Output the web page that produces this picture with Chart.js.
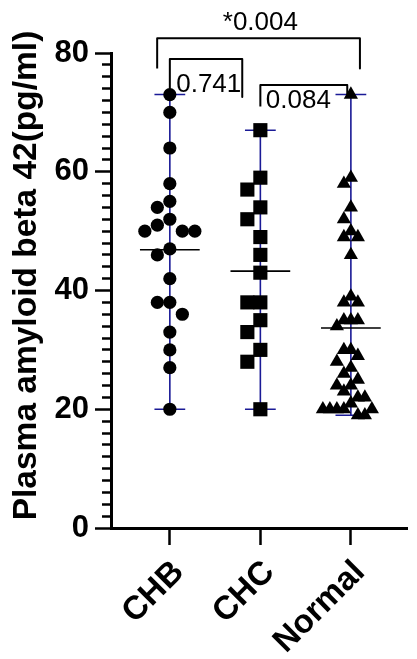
<!DOCTYPE html>
<html>
<head>
<meta charset="utf-8">
<script src="https://cdn.jsdelivr.net/npm/chart.js@4.4.1/dist/chart.umd.min.js"></script>
<style>
html, body { margin: 0; padding: 0; background: #fff; }
#wrap { width: 417px; height: 659px; position: relative; }
</style>
</head>
<body>
<div id="wrap"><canvas id="chart"></canvas></div>
<script>
var groups = ['CHB', 'CHC', 'Normal'];
var chbValues = [73, 70, 64, 58, 55, 54, 52, 51, 50, 50, 50, 47, 46, 42, 38, 38, 36, 33, 30, 27, 20];
var chcValues = [67, 59, 57, 54, 52, 49, 46, 43, 38, 38, 35, 33, 30, 28, 20];
var normalValues = [73, 59, 58, 54, 52, 50, 49, 49, 46, 39, 38, 38, 35, 35, 35, 34, 30, 30, 29, 28,
                    27, 26, 25, 24, 24, 23, 22, 22, 21, 20, 20, 20, 20, 20, 19, 19];
var yTickLabels = [0, 20, 40, 60, 80];
var yTitle = 'Plasma amyloid beta 42(pg/ml)';

// significance brackets (x in group units, y in pg/ml)
var pLabels = ['0.741', '0.084', '*0.004'];
var bracketLeft = [1, 2, 0.86];
var bracketRight = [1.8, 2.96, 3.1];
var bracketTop = [79, 74.6, 82.5];
var bracketLeftEnd = [74, 71, 77.4];
var bracketRightEnd = [72.6, 73, 77.4];
var pLabelX = [1.43, 2.42, 2.0];
var pLabelY = [74.6, 72, 85];

var allValues = [chbValues, chcValues, normalValues];
var markers = [
    { style: 'circle', radius: 6.6, step: 12.5, gx: 12.5, gy: 12.5 },
    { style: 'rect', radius: 10, step: 13, gx: 13, gy: 13 },
    { style: 'triangle', radius: 8.2, step: 7, gx: 7, gy: 12.5 }
];
var FONT = '"Liberation Sans", Arial, sans-serif';

function mean(a) { return a.reduce(function (s, v) { return s + v; }, 0) / a.length; }

// simple beeswarm: place highest first, at centre or the nearest free slot
function swarm(values, m, pxX, pxY) {
    var placed = [];
    var offs = new Array(values.length);
    var order = values.map(function (v, i) { return i; }).sort(function (a, b) { return values[b] - values[a]; });
    order.forEach(function (i) {
        for (var k = 0; k < 40; k++) {
            var o = k === 0 ? 0 : (k % 2 ? -Math.ceil(k / 2) : k / 2) * m.step;
            var ok = placed.every(function (p) {
                var dx = (o - p.o) / m.gx, dy = (values[i] - p.v) * pxY / m.gy;
                return dx * dx + dy * dy >= 0.999;
            });
            if (ok) { placed.push({ o: o, v: values[i] }); offs[i] = o / pxX; break; }
        }
    });
    return offs;
}

var datasets = [];

// mean lines
var meanData = [];
allValues.forEach(function (vals, g) {
    var m = mean(vals);
    meanData.push({ x: g + 1 - 0.33, y: m }, { x: g + 1 + 0.33, y: m }, { x: g + 1, y: null });
});
datasets.push({ type: 'line', data: meanData, borderColor: '#000', borderWidth: 1.6, pointRadius: 0, spanGaps: false, order: 0 });

// range (min-max) lines
var rangeData = [];
allValues.forEach(function (vals, g) {
    var lo = Math.min.apply(null, vals), hi = Math.max.apply(null, vals), c = g + 1;
    rangeData.push({ x: c - 0.17, y: hi }, { x: c + 0.17, y: hi }, { x: c, y: null },
                   { x: c, y: hi }, { x: c, y: lo }, { x: c, y: null },
                   { x: c - 0.17, y: lo }, { x: c + 0.17, y: lo }, { x: c, y: null });
});
datasets.push({ type: 'line', data: rangeData, borderColor: '#1a1a96', borderWidth: 1.6, pointRadius: 0, spanGaps: false, order: 3 });

// points
allValues.forEach(function (vals, g) {
    datasets.push({
        type: 'scatter',
        data: vals.map(function (v) { return { x: g + 1, y: v }; }),
        pointStyle: markers[g].style,
        pointRadius: markers[g].radius,
        pointBackgroundColor: '#000',
        pointBorderColor: '#000',
        pointBorderWidth: 0,
        order: 1
    });
});

// brackets
pLabels.forEach(function (lab, i) {
    datasets.push({
        type: 'line',
        data: [{ x: bracketLeft[i], y: bracketLeftEnd[i] }, { x: bracketLeft[i], y: bracketTop[i] },
               { x: bracketRight[i], y: bracketTop[i] }, { x: bracketRight[i], y: bracketRightEnd[i] }],
        borderColor: '#000', borderWidth: 2, pointRadius: 0, clip: false,
        borderJoinStyle: 'round', order: 0
    });
});

var extras = {
    id: 'extras',
    afterDraw: function (chart) {
        var ctx = chart.ctx, x = chart.scales.x, y = chart.scales.y;
        ctx.save();
        ctx.fillStyle = '#000';
        ctx.textAlign = 'center';
        ctx.textBaseline = 'middle';
        ctx.font = '26px ' + FONT;
        pLabels.forEach(function (lab, i) {
            ctx.fillText(lab, x.getPixelForValue(pLabelX[i]), y.getPixelForValue(pLabelY[i]));
        });
        // y axis title
        ctx.translate(27, (chart.chartArea.top + chart.chartArea.bottom) / 2 - 15);
        ctx.rotate(-Math.PI / 2);
        ctx.font = 'bold 33.5px ' + FONT;
        ctx.fillText(yTitle, 0, 0);
        ctx.restore();
    }
};

var chart = new Chart(document.getElementById('chart'), {
    data: { datasets: datasets },
    options: {
        responsive: true,
        maintainAspectRatio: false,
        animation: false,
        layout: { padding: { top: 53, right: 0, left: 0, bottom: 0 } },
        plugins: { legend: { display: false }, tooltip: { enabled: false } },
        scales: {
            x: {
                type: 'linear', min: 0.35, max: 3.62,
                afterBuildTicks: function (axis) { axis.ticks = [1, 2, 3].map(function (v) { return { value: v }; }); },
                afterFit: function (axis) { axis.height = 131; },
                ticks: {
                    autoSkip: false, minRotation: 45, maxRotation: 45, padding: 8, labelOffset: 9,
                    color: '#000',
                    font: { family: FONT, size: 33, weight: 'bold' },
                    callback: function (v) { return groups[v - 1]; }
                },
                grid: { drawOnChartArea: false, tickLength: 17, tickWidth: 2.5, tickColor: '#000' },
                border: { color: '#000', width: 3 }
            },
            y: {
                min: 0, max: 80,
                afterBuildTicks: function (axis) {
                    var t = [];
                    for (var v = 0; v <= 80; v += 2) t.push({ value: v });
                    axis.ticks = t;
                },
                afterFit: function (axis) { axis.width = 111; },
                ticks: {
                    autoSkip: false, color: '#000', padding: 6,
                    font: { family: FONT, size: 31, weight: 'bold' },
                    callback: function (v) { return yTickLabels.indexOf(v) >= 0 ? String(v) : ''; }
                },
                grid: {
                    drawOnChartArea: false, tickLength: 16, tickWidth: 2.5, tickColor: '#000',
                    tickBorderDash: function (c) { return yTickLabels.indexOf(c.tick.value) >= 0 ? [] : [9, 7]; },
                    tickBorderDashOffset: function (c) { return yTickLabels.indexOf(c.tick.value) >= 0 ? 0 : 9; }
                },
                border: { color: '#000', width: 3 }
            }
        }
    },
    plugins: [extras]
});

// spread points horizontally using the chart's own scales
var sx = chart.scales.x, sy = chart.scales.y;
var pxX = sx.getPixelForValue(2) - sx.getPixelForValue(1);
var pxY = sy.getPixelForValue(0) - sy.getPixelForValue(1);
allValues.forEach(function (vals, g) {
    var offs = swarm(vals, markers[g], pxX, pxY);
    datasets[2 + g].data = vals.map(function (v, i) { return { x: g + 1 + offs[i], y: v }; });
});
chart.update('none');
</script>
</body>
</html>
